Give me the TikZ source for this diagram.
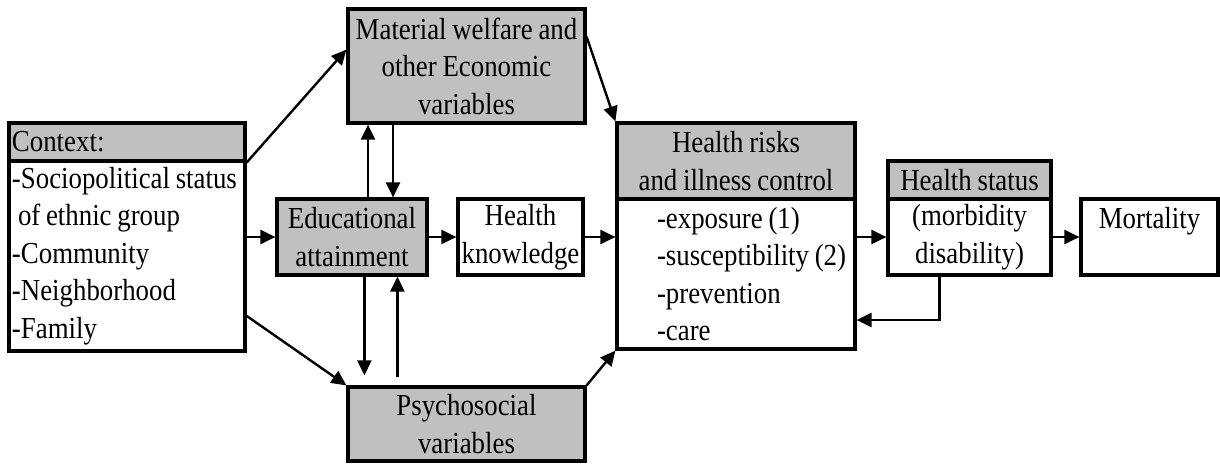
\documentclass[tikz,border=0pt]{standalone}
\usepackage{fontspec}
\setmainfont{Liberation Serif}[FakeStretch=0.88,WordSpace=0.85]
\usetikzlibrary{arrows.meta,calc}
\definecolor{hdr}{RGB}{192,192,192}
\begin{document}
\begin{tikzpicture}[x=1pt,y=-1pt,
  bx/.style={draw, line width=3.2pt, inner sep=0pt, font=\fontsize{30.5}{37.5}\selectfont, align=center},
  hd/.style={bx, fill=hdr},
  arr/.style={line width=2.4pt, -{Triangle[length=15pt,width=14pt]}}]
\useasboundingbox (0,0) rectangle (1220,463);
% Context
\node[hd, minimum width=236, minimum height=38, text width=230, align=flush left] (ctxh) at (127,142) {Context:};
\node[bx, minimum width=236, minimum height=190, text width=230, align=flush left] (ctxb) at (127,256)
  {-Sociopolitical status\\\hspace*{6pt}of ethnic group\\-Community\\-Neighborhood\\-Family};
% middle column
\node[hd, minimum width=237, minimum height=114] (mat) at (466.5,66) {Material welfare and\\other Economic\\variables};
\node[hd, minimum width=150, minimum height=76] (edu) at (352,237) {Educational\\attainment};
\node[bx, minimum width=125, minimum height=76] (hk) at (520.5,237) {Health\\knowledge};
\node[hd, minimum width=237, minimum height=74] (psy) at (466.5,424) {Psychosocial\\variables};
% health risks
\node[hd, minimum width=238, minimum height=76] (hrh) at (736,161) {Health risks\\and illness control};
\node[bx, minimum width=238, minimum height=150, text width=238, align=flush left] (hrb) at (736,274)
  {\hspace*{40pt}-exposure (1)\\\hspace*{40pt}-susceptibility (2)\\\hspace*{40pt}-prevention\\\hspace*{40pt}-care};
% health status
\node[hd, minimum width=163, minimum height=38] (hsh) at (969.5,180) {Health status};
\node[bx, minimum width=163, minimum height=76] (hsb) at (969.5,237) {(morbidity\\disability)};
\node[bx, minimum width=137, minimum height=76] (mor) at (1149.5,237) {Mortality\\\mbox{}};
% connectors
\draw[arr] (ctxh.south east) -- ($(mat.north west)!0.36!(mat.south west)$);
\draw[arr] (ctxb.east |- edu.west) -- (edu.west);
\draw[arr] ($(ctxb.north east)!0.81!(ctxb.south east)$) -- (psy.north west);
\draw[arr] (edu.east) -- (hk.west);
\draw[arr] (hk.east) -- (hrb.west |- hk.east);
\draw[arr] ($(mat.north east)!0.25!(mat.south east)$) -- (hrh.north west);
\draw[arr] (psy.north east) -- (hrb.south west);
\draw[arr] (hrb.east |- hsb.west) -- (hsb.west);
\draw[arr] (hsb.east) -- (mor.west);
% education <-> material
\coordinate (u1) at ($(edu.north)+(16,0)$);
\coordinate (d1) at ($(edu.north)+(41,0)$);
\draw[arr] (u1) -- (u1 |- mat.south);
\draw[arr] (d1 |- mat.south) -- (d1);
% education <-> psychosocial
\coordinate (p1) at ($(psy.north west)+(18,-10)$);
\coordinate (p2) at ($(psy.north west)+(51,-8)$);
\draw[arr] (edu.south -| p1) -- (p1);
\draw[arr] (p2) -- (edu.south -| p2);
% feedback
\coordinate (fb) at ($(hsb.south)+(-30,0)$);
\coordinate (fby) at (0,320);
\draw[arr] (fb) -- (fb |- fby) -- (hrb.east |- fby);
\end{tikzpicture}
\end{document}
